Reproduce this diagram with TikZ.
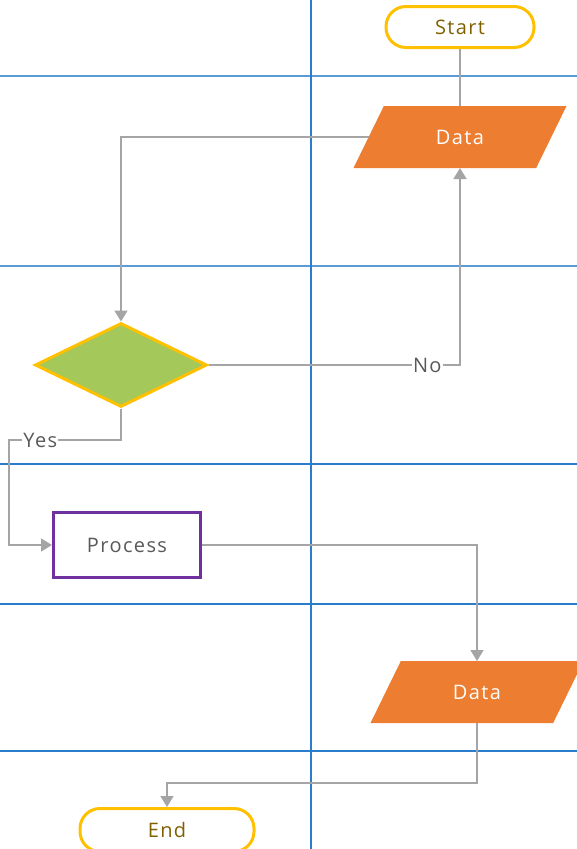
\documentclass[tikz,border=0pt]{standalone}
\usepackage{fontspec}
\setmainfont{Open Sans}[LetterSpace=7]
\usetikzlibrary{shapes.geometric,arrows.meta}
\definecolor{lanelight}{HTML}{5B9BD5}
\definecolor{lanedark}{HTML}{2A7DCC}
\definecolor{flowgrey}{HTML}{A5A5A5}
\definecolor{termgold}{HTML}{FFC000}
\definecolor{termtext}{HTML}{7F6000}
\definecolor{dataorange}{HTML}{ED7D31}
\definecolor{decgreen}{HTML}{A5C85A}
\definecolor{procpurple}{HTML}{7030A0}
\definecolor{labelgrey}{HTML}{595959}
\tikzset{
  terminal/.style={draw=termgold, line width=3pt, rounded corners=20pt, text=termtext,
    inner sep=0, font=\fontsize{20}{24}\selectfont},
  dataio/.style={trapezium, trapezium left angle=56.5, trapezium right angle=123.5,
    trapezium stretches=true, fill=dataorange, text=white, inner sep=0, outer sep=0,
    minimum width=214pt, minimum height=62pt, font=\fontsize{20}{24}\selectfont},
  decision/.style={diamond, fill=decgreen, draw=termgold, line width=3pt, inner sep=0,
    minimum width=172pt, minimum height=84pt},
  process/.style={draw=procpurple, line width=3pt, text=labelgrey, inner sep=0,
    minimum width=147pt, minimum height=65pt, font=\fontsize{20}{24}\selectfont},
  flow/.style={draw=flowgrey, line width=1.6pt},
  flowarrow/.style={flow, -{Triangle[width=13pt,length=11pt]}},
  branch/.style={fill=white, text=labelgrey, inner sep=1pt, font=\fontsize{20}{24}\selectfont}
}
\begin{document}
\begin{tikzpicture}[x=1pt,y=-1pt]
\useasboundingbox (0,0) rectangle (577,849);

% lanes
\draw[lanelight, line width=2.4pt] (0,76) -- (577,76);
\draw[lanelight, line width=2.4pt] (0,266) -- (577,266);
\draw[lanedark, line width=2.4pt] (0,464) -- (577,464);
\draw[lanedark, line width=2.4pt] (0,604) -- (577,604);
\draw[lanedark, line width=2.4pt] (0,751) -- (577,751);
\draw[lanedark, line width=2.4pt] (311,0) -- (311,849);

% shapes
\node[terminal, minimum width=148pt, minimum height=41pt] (start) at (460,27) {Start};
\node[dataio] (data1) at (460,137) {Data};
\node[decision] (check) at (121,365) {};
\node[process] (proc) at (127,545) {Process};
\node[dataio] (data2) at (477,692) {Data};
\node[terminal, minimum width=174pt, minimum height=43pt] (end) at (167,830) {End};

\coordinate (yesbend) at (9,440);
\coordinate (endbend) at (167,783);

% connectors
\draw[flow] (start) -- (data1);
\draw[flowarrow] (data1.west) -| (check.north);
\draw[flowarrow] (check.east) -| node[branch, pos=0.435] (no) {No} (data1.south);
\draw[flowarrow] (check.south) |- node[branch, pos=0.86] (yes) {Yes} (yesbend) |- (proc.west);
\draw[flowarrow] (proc.east) -| (data2.north);
\draw[flowarrow] (data2.south) |- (endbend) -- (end.north);
\end{tikzpicture}
\end{document}
